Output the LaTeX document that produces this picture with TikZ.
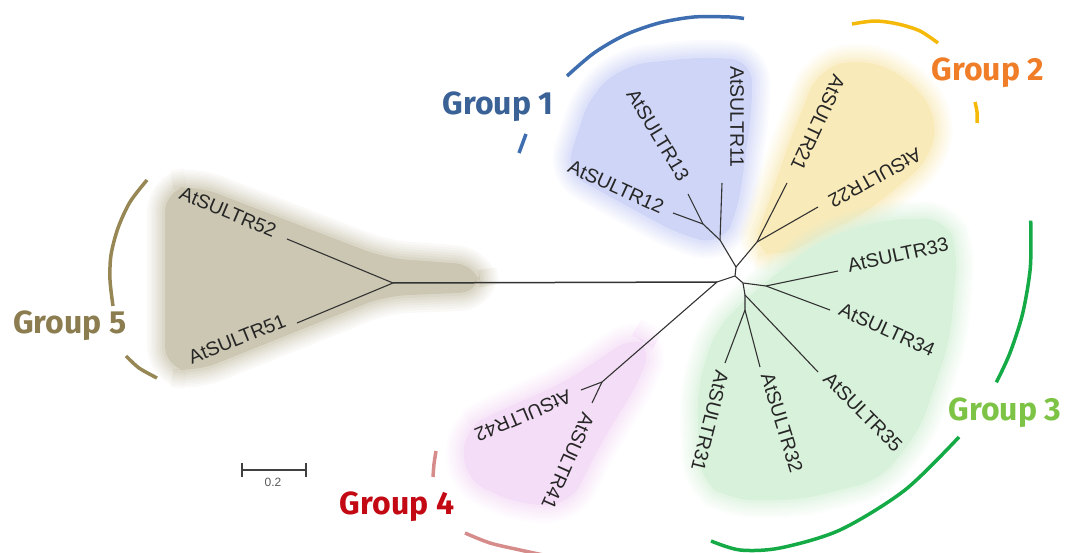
\documentclass[tikz,border=0pt]{standalone}
\usepackage{fontspec}
\setmainfont{Liberation Sans}
\newfontfamily\grpfont{Fira Sans}
\newfontfamily\leaffont{Liberation Sans}
\definecolor{b1}{RGB}{207,213,246}
\definecolor{b2}{RGB}{249,234,185}
\definecolor{b3}{RGB}{216,241,218}
\definecolor{b4}{RGB}{244,221,246}
\definecolor{b5}{RGB}{204,199,178}
\definecolor{a1}{RGB}{62,110,175}
\definecolor{a2}{RGB}{245,185,10}
\definecolor{a3}{RGB}{20,170,70}
\definecolor{a4}{RGB}{215,140,140}
\definecolor{a5}{RGB}{150,135,85}
\definecolor{t1}{RGB}{58,98,150}
\definecolor{t2}{RGB}{240,125,40}
\definecolor{t3}{RGB}{125,195,70}
\definecolor{t4}{RGB}{195,10,20}
\definecolor{t5}{RGB}{140,125,80}
\begin{document}
\begin{tikzpicture}[x=1pt,y=-1pt,
  blob/.style={fill=#1, rounded corners=22pt, line join=round,
    preaction={draw=#1, line width=36pt, draw opacity=0.10},
    preaction={draw=#1, line width=31pt, draw opacity=0.10},
    preaction={draw=#1, line width=26pt, draw opacity=0.12},
    preaction={draw=#1, line width=21pt, draw opacity=0.14},
    preaction={draw=#1, line width=16pt, draw opacity=0.16},
    preaction={draw=#1, line width=11pt, draw opacity=0.2},
    preaction={draw=#1, line width=6pt, draw opacity=0.3}},
  branch/.style={draw=black!80, line width=1.1pt, line join=round},
  leaf/.style={font=\leaffont\fontsize{19.5}{19.5}\selectfont, text=black!85, inner sep=0pt},
  grp/.style={font=\grpfont\bfseries\fontsize{32}{32}\selectfont, inner sep=0pt},
  arcline/.style={line width=3.5pt}]
\useasboundingbox (0,0) rectangle (1068,553);

% background blobs
\path[blob=b5] (165,190) -- (195,185) -- (385,258) -- (478,265) -- (482,292) -- (385,296) -- (195,372) -- (165,368) -- cycle;
\path[blob=b1] (565,172) -- (590,95) -- (625,65) -- (700,57) -- (752,60) -- (752,110) -- (738,210) -- (722,245) -- (680,235) -- cycle;
\path[blob=b2] (752,250) -- (790,140) -- (818,70) -- (860,58) -- (905,75) -- (938,115) -- (930,160) -- (870,210) -- (780,258) -- cycle;
\path[blob=b3] (700,480) -- (697,390) -- (715,330) -- (750,295) -- (820,240) -- (880,220) -- (945,218) -- (958,250) -- (950,340) -- (920,430) -- (880,480) -- (800,500) -- (730,500) -- cycle;
\path[blob=b4] (463,430) -- (490,415) -- (565,382) -- (635,335) -- (652,345) -- (640,380) -- (600,445) -- (570,505) -- (520,505) -- (465,480) -- cycle;

% tree coordinates
\coordinate (N5) at (393,283);
\coordinate (L52) at (287,239);
\coordinate (L51) at (297,323);
\coordinate (A) at (717,282);
\coordinate (B) at (735,276);
\coordinate (C) at (736,267);
\coordinate (N1) at (720,240);
\coordinate (L11) at (722,183);
\coordinate (N13) at (703,224);
\coordinate (L13) at (688,194);
\coordinate (L12) at (673,213);
\coordinate (N2) at (757,242);
\coordinate (L21) at (787,183);
\coordinate (L22) at (818,207);
\coordinate (N3) at (743,283);
\coordinate (N33) at (766,286);
\coordinate (L33) at (838,271);
\coordinate (L34) at (830,310);
\coordinate (N35) at (745,295);
\coordinate (L35) at (818,372);
\coordinate (N31) at (745,310);
\coordinate (L32) at (760,367);
\coordinate (L31) at (725,363);
\coordinate (N4) at (602,382);
\coordinate (L42) at (581,390);
\coordinate (L41) at (592,403);

% branches
\draw[branch, line width=1.5pt] (N5) -- (A);
\draw[branch] (L52) -- (N5) -- (L51);
\draw[branch] (A) -- (N4) -- (L42);
\draw[branch] (N4) -- (L41);
\draw[branch] (A) -- (B) -- (C);
\draw[branch] (C) -- (N1) -- (L11);
\draw[branch] (N1) -- (N13) -- (L13);
\draw[branch] (N13) -- (L12);
\draw[branch] (C) -- (N2) -- (L21);
\draw[branch] (N2) -- (L22);
\draw[branch] (B) -- (N3) -- (N33) -- (L33);
\draw[branch] (N33) -- (L34);
\draw[branch] (N3) -- (N35) -- (L35);
\draw[branch] (N35) -- (N31) -- (L32);
\draw[branch] (N31) -- (L31);

% leaf labels
\node[leaf, rotate=-90] (t11) at (737,117) {AtSULTR11};
\node[leaf, rotate=-59] (t13) at (658,135) {AtSULTR13};
\node[leaf, rotate=-24.5] (t12) at (616,187) {AtSULTR12};
\node[leaf, rotate=-115] (t21) at (818,123) {AtSULTR21};
\node[leaf, rotate=-151] (t22) at (875,178) {AtSULTR22};
\node[leaf, rotate=12.3] (t33) at (898,255) {AtSULTR33};
\node[leaf, rotate=-24.5] (t34) at (887,330) {AtSULTR34};
\node[leaf, rotate=-45.3] (t35) at (863,412) {AtSULTR35};
\node[leaf, rotate=-73] (t32) at (782,423) {AtSULTR32};
\node[leaf, rotate=-104] (t31) at (710,421) {AtSULTR31};
\node[leaf, rotate=-157] (t42) at (523,416) {AtSULTR42};
\node[leaf, rotate=-114] (t41) at (568,461) {AtSULTR41};
\node[leaf, rotate=-23] (t52) at (228,212) {AtSULTR52};
\node[leaf, rotate=22] (t51) at (237,339) {AtSULTR51};

% group brackets
\draw[arcline, draw=a1] plot[smooth] coordinates {(567,76) (594,53) (625,35) (659,23) (694,17) (730,17) (744,18.5)};
\draw[arcline, draw=a1] (519,153) -- (526,134);
\draw[arcline, draw=a2] plot[smooth] coordinates {(852,24) (875,21) (898,24) (920,31) (938,43)};
\draw[arcline, draw=a2] plot[smooth] coordinates {(975,102) (977,112) (977,123)};
\draw[arcline, draw=a3] plot[smooth] coordinates {(1030.7,220.6) (1030.3,267.7) (1022.5,314.1) (1009.6,353.9) (996.3,382.4)};
\draw[arcline, draw=a3] plot[smooth] coordinates {(959,437) (905,490) (840,530) (780,548) (740,550) (711,541)};
\draw[arcline, draw=a4] plot[smooth] coordinates {(436,451) (434,464) (433,477)};
\draw[arcline, draw=a4] plot[smooth] coordinates {(465,533) (490,543) (520,550) (548,556)};
\draw[arcline, draw=a5] plot[smooth] coordinates {(147,180) (130,202) (118,228) (111,255) (110,280) (113,306)};
\draw[arcline, draw=a5] plot[smooth] coordinates {(126,356) (139,368) (157,378)};

% group labels
\node[grp, text=t1] (g1) at (498,107) {Group 1};
\node[grp, text=t2] (g2) at (988,73) {Group 2};
\node[grp, text=t3] (g3) at (1005,413) {Group 3};
\node[grp, text=t4] (g4) at (397,507) {Group 4};
\node[grp, text=t5] (g5) at (70,326) {Group 5};

% scale bar
\coordinate (s1) at (242,470);
\coordinate (s2) at (306,470);
\draw[black!75, line width=1.2pt] (s1) -- (s2);
\draw[black!75, line width=1.2pt] ([yshift=-7pt]s1) -- ([yshift=7pt]s1);
\draw[black!75, line width=1.2pt] ([yshift=-7pt]s2) -- ([yshift=7pt]s2);
\node[font=\fontsize{12}{12}\selectfont, text=black!65, inner sep=0pt] (sl) at (273,482) {0.2};
\end{tikzpicture}
\end{document}
